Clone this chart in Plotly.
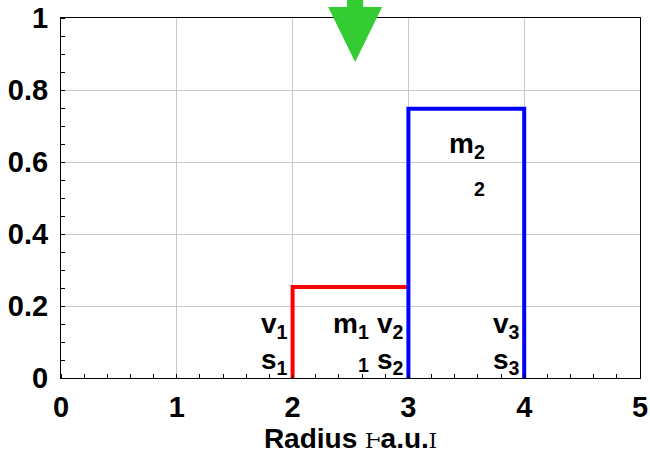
import plotly.graph_objects as go

# Data
red_x = [2, 2, 3]
red_y = [0, 0.253, 0.253]
blue_x = [3, 3, 4, 4]
blue_y = [0, 0.748, 0.748, 0]
arrow_x = 2.54

x_range = [0, 5]
y_range = [0, 1]
x_ticks = [0, 1, 2, 3, 4, 5]
y_ticks = [0, 0.2, 0.4, 0.6, 0.8, 1]
y_tick_text = ["0", "0.2", "0.4", "0.6", "0.8", "1"]

# label text, x, y (data coords, right-anchored)
labels = [
    ("v<sub>1</sub>", 1.98, 0.145),
    ("s<sub>1</sub>", 1.98, 0.045),
    ("m<sub>1</sub>", 2.68, 0.145),
    ("<sub>1</sub>", 2.68, 0.035),
    ("v<sub>2</sub>", 2.98, 0.145),
    ("s<sub>2</sub>", 2.98, 0.045),
    ("v<sub>3</sub>", 3.98, 0.145),
    ("s<sub>3</sub>", 3.98, 0.045),
    ("m<sub>2</sub>", 3.68, 0.645),
    ("<sub>2</sub>", 3.68, 0.525),
]

FONT = "Liberation Sans, Arial, sans-serif"

fig = go.Figure()
fig.add_trace(go.Scatter(x=red_x, y=red_y, mode="lines",
                         line=dict(color="#ff0000", width=4), showlegend=False))
fig.add_trace(go.Scatter(x=blue_x, y=blue_y, mode="lines",
                         line=dict(color="#0000ff", width=4), showlegend=False))

for txt, x, y in labels:
    fig.add_annotation(x=x, y=y, text="<b>" + txt + "</b>", showarrow=False,
                       xanchor="right", yanchor="middle",
                       font=dict(family=FONT, size=28, color="black"))

# green arrow (paper coordinates derived from arrow_x)
ax = (arrow_x - x_range[0]) / (x_range[1] - x_range[0])
hw = 0.0466
sw = 0.014
tri_top = 1.0306
apex = 0.878
path = (f"M {ax - sw} 1.06 L {ax + sw} 1.06 L {ax + sw} {tri_top} "
        f"L {ax + hw} {tri_top} L {ax} {apex} L {ax - hw} {tri_top} "
        f"L {ax - sw} {tri_top} Z")
fig.add_shape(type="path", xref="paper", yref="paper", path=path,
              fillcolor="#33cc33", line=dict(width=0), layer="above")

span = "<span style='font-family:DejaVu Serif;font-weight:normal;font-size:21px'>"

fig.update_layout(
    width=650, height=454,
    margin=dict(l=61, r=10, t=18, b=76, autoexpand=False),
    plot_bgcolor="white", paper_bgcolor="white",
    font=dict(family=FONT, size=29, color="black"),
    xaxis=dict(range=x_range, tickvals=x_ticks,
               ticktext=[f"<b>{v}</b>" for v in x_ticks],
               showgrid=True, gridcolor="#c8c8c8", gridwidth=1,
               zeroline=False, showline=True, linecolor="black", linewidth=1,
               mirror=True, ticks="", ticklabelstandoff=3, automargin=False,
               minor=dict(ticks="inside", dtick=0.2, ticklen=4,
                          tickcolor="black", showgrid=False),
               title=dict(text="<b>Radius " + span + "Ⱶ</span>a.u." + span + "I</span></b>",
                          standoff=4, font=dict(size=28))),
    yaxis=dict(range=y_range, tickvals=y_ticks,
               ticktext=[f"<b>{t}</b>" for t in y_tick_text],
               showgrid=True, gridcolor="#c8c8c8", gridwidth=1,
               zeroline=False, showline=True, linecolor="black", linewidth=1,
               mirror=True, ticks="", ticklabelstandoff=6, automargin=False,
               minor=dict(ticks="inside", dtick=0.05, ticklen=4,
                          tickcolor="black", showgrid=False)),
)

fig.write_html("out.html")
